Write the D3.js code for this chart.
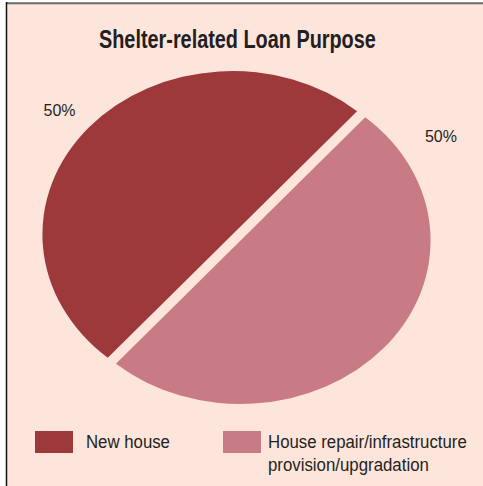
<!DOCTYPE html>
<html>
<head>
<meta charset="utf-8">
<script src="https://cdn.jsdelivr.net/npm/d3@7"></script>
<style>
  body { margin: 0; background: #fff; }
  text { font-family: "Liberation Sans", Arial, sans-serif; fill: #231f20; }
</style>
</head>
<body>
<div id="chart"></div>
<script>
// data
var categories = ["New house", "House repair/infrastructure provision/upgradation"];
var legendLines = [["New house"], ["House repair/infrastructure", "provision/upgradation"]];
var values = [50, 50];
var percentLabels = ["50%", "50%"];
var colors = ["#9d393b", "#c97b85"];
var title = "Shelter-related Loan Purpose";

var width = 483, height = 486;

var svg = d3.select("#chart")
    .append("svg")
    .attr("width", width)
    .attr("height", height);

// draw a text narrowed horizontally to width w, to look like the condensed face of the original
// anchor: "start" puts the left edge at x, "middle" centres it on x
function condensedText(parent, str, x, y, size, w, anchor, bold) {
    var g = parent.append("g");
    var t = g.append("text")
        .attr("font-size", size)
        .attr("font-weight", bold ? "bold" : null)
        .text(str);
    var natural = t.node().getComputedTextLength();
    var k = w / natural;
    var left = anchor === "middle" ? x - w / 2 : x;
    g.attr("transform", "translate(" + left + "," + y + ") scale(" + k + ",1)");
    return g;
}

// panel background + frame
svg.append("rect")
    .attr("x", 6).attr("y", 3)
    .attr("width", width - 6).attr("height", height - 3)
    .attr("fill", "#fde5dc");
svg.append("line")
    .attr("x1", 6).attr("x2", width)
    .attr("y1", 3.2).attr("y2", 3.2)
    .attr("stroke", "#6b6b6b").attr("stroke-width", 2);
svg.append("line")
    .attr("x1", 6.5).attr("x2", 6.5)
    .attr("y1", 2).attr("y2", height)
    .attr("stroke", "#111").attr("stroke-width", 1.5);

condensedText(svg, title, 99, 48, 25, 277, "start", true);

// pie: circle squashed vertically into an ellipse
var cx = 236.5, cy = 237.5, r = 190, squash = 0.86, explode = 3.6;
var deg = Math.PI / 180;

var pie = d3.pie()
    .sort(null)
    .value(function(d) { return d; })
    .startAngle(221 * deg)
    .endAngle(581 * deg);

var arc = d3.arc().innerRadius(0).outerRadius(r);

var arcs = pie(values);

var slices = svg.append("g").attr("class", "slices");
slices.selectAll("g")
    .data(arcs)
    .enter()
    .append("g")
    .attr("transform", function(d) {
        var mid = (d.startAngle + d.endAngle) / 2;
        var n = Math.hypot(Math.sin(mid), Math.cos(mid) * squash);
        var dx = Math.sin(mid) * explode * Math.SQRT2 / n,
            dy = -Math.cos(mid) * squash * explode * Math.SQRT2 / n;
        return "translate(" + (cx + dx) + "," + (cy + dy) + ") scale(1," + squash + ")";
    })
    .append("path")
    .attr("d", arc)
    .attr("fill", function(d, i) { return colors[i]; });

// percent labels sit outside the pie
var labelAngles = [310, 60];
var labelRadii = [231, 236];
var labelLayer = svg.append("g").attr("class", "labels");
arcs.forEach(function(d, i) {
    var a = labelAngles[i] * deg;
    var c = d3.arc().innerRadius(labelRadii[i]).outerRadius(labelRadii[i])
        .centroid({startAngle: a, endAngle: a});
    condensedText(labelLayer, percentLabels[i], cx + c[0], cy + c[1] * squash + 6, 17, 32, "middle", false);
});

// legend
var legendX = [35, 223];
var textWidths = [[84], [199, 161]];
var legend = svg.append("g")
    .selectAll("g")
    .data(categories)
    .enter()
    .append("g")
    .attr("transform", function(d, i) { return "translate(" + legendX[i] + ",431)"; });

legend.append("rect")
    .attr("width", 38)
    .attr("height", 22)
    .attr("fill", function(d, i) { return colors[i]; });

legend.each(function(d, i) {
    var g = d3.select(this);
    legendLines[i].forEach(function(line, j) {
        condensedText(g, line, i === 0 ? 51 : 45, 16.5 + j * 23, 18.5, textWidths[i][j], "start", false);
    });
});
</script>
</body>
</html>
